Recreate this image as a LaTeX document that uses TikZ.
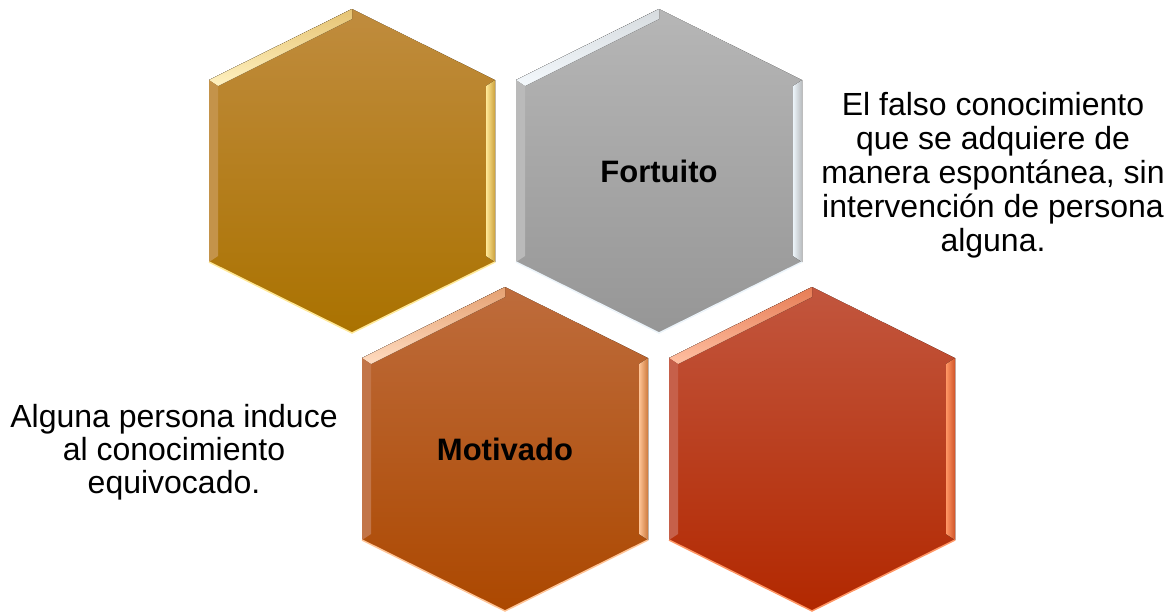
\documentclass[tikz,border=0pt]{standalone}
\usepackage{fontspec}
\setmainfont{Liberation Sans}
\usepackage{tikz}

\definecolor{goldtop}{RGB}{192,140,62}
\definecolor{goldbot}{RGB}{170,114,0}
\definecolor{goldlight}{RGB}{255,232,150}
\definecolor{graytop}{RGB}{182,182,182}
\definecolor{graybot}{RGB}{150,150,150}
\definecolor{graylight}{RGB}{236,244,250}
\definecolor{orangetop}{RGB}{190,108,60}
\definecolor{orangebot}{RGB}{172,72,0}
\definecolor{orangelight}{RGB}{255,196,150}
\definecolor{redtop}{RGB}{194,86,62}
\definecolor{redbot}{RGB}{178,40,0}
\definecolor{redlight}{RGB}{255,150,100}

% hexagon with a soft bevel: #1 cx, #2 cy, #3 top colour, #4 bottom colour, #5 light
\newcommand{\hexcell}[5]{%
  \fill[top color=#3, bottom color=#4] (#1,#2-162) -- (#1+143,#2-91) -- (#1+143,#2+91)
    -- (#1,#2+162) -- (#1-143,#2+91) -- (#1-143,#2-91) -- cycle;
  \fill[top color=#5!60!#3, bottom color=#5!60!white] (#1-143,#2-91) -- (#1,#2-162)
    -- (#1,#2-152) -- (#1-134,#2-85) -- cycle;
  \fill[left color=#5, right color=#5!40!#4] (#1+134,#2-85) -- (#1+143,#2-91)
    -- (#1+143,#2+91) -- (#1+134,#2+85) -- cycle;
  \fill[#3!94!white] (#1-143,#2-91) -- (#1-134,#2-85) -- (#1-134,#2+85) -- (#1-143,#2+91) -- cycle;
  \draw[#5, line width=1.5] (#1-143,#2+91) -- (#1,#2+162) -- (#1+143,#2+91);
}

\begin{document}
\begin{tikzpicture}[x=1pt,y=-1pt]
\useasboundingbox (0,0) rectangle (1173,611);

\hexcell{352}{171}{goldtop}{goldbot}{goldlight}
\hexcell{659}{171}{graytop}{graybot}{graylight}
\hexcell{505}{449}{orangetop}{orangebot}{orangelight}
\hexcell{812}{449}{redtop}{redbot}{redlight}

\node[inner sep=0, font=\fontsize{31}{33}\selectfont\bfseries](fortuito) at (659,171) {Fortuito};
\node[inner sep=0, font=\fontsize{31}{33}\selectfont\bfseries](motivado) at (505,449) {Motivado};

\node[inner sep=0, align=center, font=\fontsize{32}{34}\selectfont](descfortuito) at (993,175)
  {El falso conocimiento\\que se adquiere de\\manera espontánea, sin\\intervención de persona\\alguna.};
\node[inner sep=0, align=center, font=\fontsize{32}{33}\selectfont](descmotivado) at (174,452)
  {Alguna persona induce\\al conocimiento\\equivocado.};
\end{tikzpicture}
\end{document}
